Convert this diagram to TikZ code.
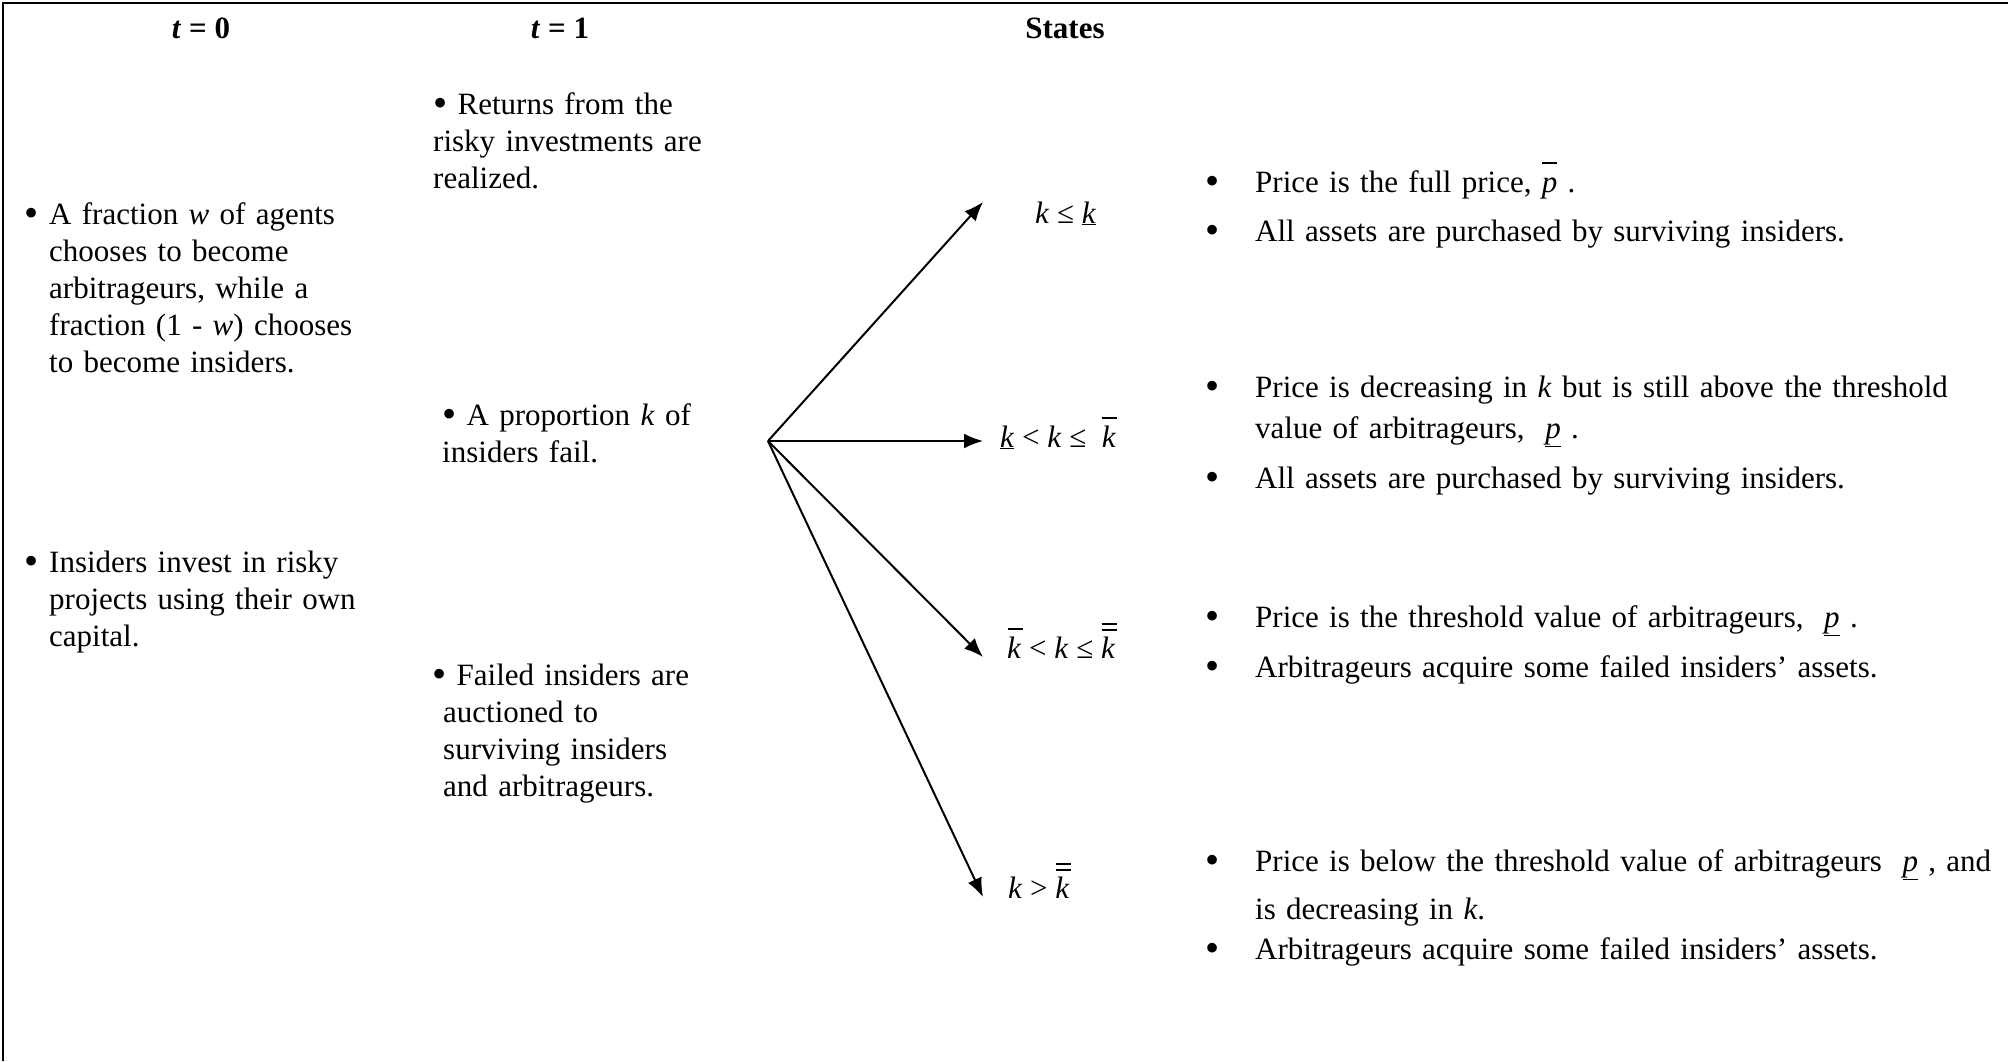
\documentclass[tikz,border=0pt]{standalone}
\usepackage{fontspec}
\setmainfont{Liberation Serif}
\usetikzlibrary{arrows.meta,positioning}

%bars over a letter, list bullet
\newcommand{\barred}[1]{\rlap{\hspace{0.5pt}\raisebox{28pt}{\rule{15pt}{1.8pt}}}\textit{#1}}
\newcommand{\dbarred}[1]{\rlap{\hspace{0.5pt}\raisebox{27pt}{\rule{15pt}{1.8pt}}}\rlap{\hspace{0.5pt}\raisebox{33pt}{\rule{15pt}{1.8pt}}}\textit{#1}}
\newcommand{\bul}{\raisebox{-2.5pt}{\scalebox{1.3}{\textbullet}}}

\begin{document}
\begin{tikzpicture}
%Timeline of the model
	[
	 	 %Styles
       x=1pt, y=-1pt,
       inner sep=0pt,
       font=\fontsize{31}{37}\selectfont,
       head_label/.style={anchor=base, font=\fontsize{31}{37}\selectfont\bfseries},
       event_text/.style={anchor=base west, text width=400pt, align=left},
       state_label/.style={anchor=base west},
       outcome_text/.style={anchor=base west, text width=760pt, align=left},
       frame_line/.style={line width=2.5pt},
       branch_edge/.style={line width=2pt, -{Latex[length=19pt,width=15pt]}}
    ]
    \useasboundingbox (0,0) rectangle (2008,1061);

    %Frame
    \draw[frame_line] (3,1061) -- (3,3) -- (2008,3);

    %Column heads
    \node (head0) [head_label] at (201,38) {\textit{t} = 0};
    \node (head1) [head_label] at (560,38) {\textit{t} = 1};
    \node (states) [head_label] at (1065,38) {States};

    %t = 0
    \node (agents) [event_text] at (49,224)
       {\llap{\bul\hspace{11pt}}A fraction \textit{w} of agents\\
        chooses to become\\
        arbitrageurs, while a\\
        fraction (1 - \textit{w}) chooses\\
        to become insiders.};
    \node (invest) [event_text] at (49,572)
       {\llap{\bul\hspace{11pt}}Insiders invest in risky\\
        projects using their own\\
        capital.};

    %t = 1
    \node (returns) [event_text] at (433,114)
       {\bul\ Returns from the\\
        risky investments are\\
        realized.};
    \node (fail) [event_text] at (442,425)
       {\bul\ A proportion \textit{k} of\\
        insiders fail.};
    \node (auction) [event_text] at (432,685)
       {\bul\ Failed insiders are\\
        \hspace*{11pt}auctioned to\\
        \hspace*{11pt}surviving insiders\\
        \hspace*{11pt}and arbitrageurs.};

    %States
    \node (state1) [state_label] at (1035,223)
       {\textit{k} ≤ \underline{\textit{k}}};
    \node (state2) [state_label] at (1000,447)
       {\underline{\textit{k}} < \textit{k} ≤ \ \barred{k}};
    \node (state3) [state_label] at (1007,658)
       {\barred{k} < \textit{k} ≤ \dbarred{k}};
    \node (state4) [state_label] at (1008,898)
       {\textit{k} > \dbarred{k}};

    %Outcomes
    \node (out1a) [outcome_text] at (1255,192)
       {\llap{\bul\hspace{36pt}}Price is the full price, \barred{p} .};
    \node (out1b) [outcome_text] at (1255,241)
       {\llap{\bul\hspace{36pt}}All assets are purchased by surviving insiders.};
    \node (out2a) [outcome_text] at (1255,397)
       {\llap{\bul\hspace{36pt}}Price is decreasing in \textit{k} but is still above the threshold\\[4pt]
        value of arbitrageurs, \ \underline{\textit{p}} .};
    \node (out2b) [outcome_text] at (1255,488)
       {\llap{\bul\hspace{36pt}}All assets are purchased by surviving insiders.};
    \node (out3a) [outcome_text] at (1255,627)
       {\llap{\bul\hspace{36pt}}Price is the threshold value of arbitrageurs, \ \underline{\textit{p}} .};
    \node (out3b) [outcome_text] at (1255,677)
       {\llap{\bul\hspace{36pt}}Arbitrageurs acquire some failed insiders' assets.};
    \node (out4a) [outcome_text] at (1255,871)
       {\llap{\bul\hspace{36pt}}Price is below the threshold value of arbitrageurs \ \underline{\textit{p}} , and\\[11pt]
        is decreasing in \textit{k}.};
    \node (out4b) [outcome_text] at (1255,959)
       {\llap{\bul\hspace{36pt}}Arbitrageurs acquire some failed insiders' assets.};

    %Edges
    \coordinate (branch) at (768,441);
    \coordinate (tip1) at (983,202);
    \coordinate (tip2) at (983,441);
    \coordinate (tip3) at (983,657);
    \coordinate (tip4) at (983,897);
    \path
       (branch) edge [branch_edge] (tip1)
       (branch) edge [branch_edge] (tip2)
       (branch) edge [branch_edge] (tip3)
       (branch) edge [branch_edge] (tip4);
\end{tikzpicture}
\end{document}
